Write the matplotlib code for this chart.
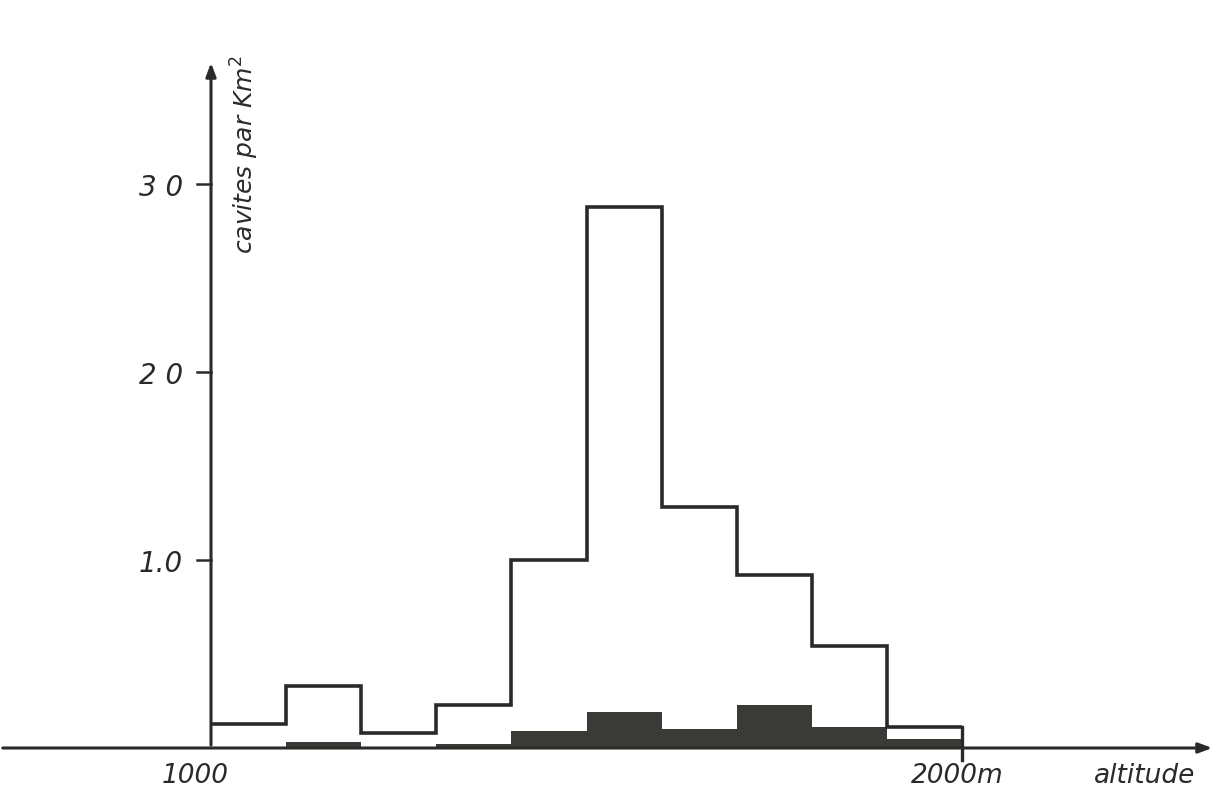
import numpy as np
import matplotlib
matplotlib.use("Agg")
import matplotlib.pyplot as plt

# Data
bin_edges = [1000, 1100, 1200, 1300, 1400, 1500, 1600, 1700, 1800, 1900, 2000]
all_cavities = [0.13, 0.33, 0.08, 0.23, 1.0, 2.88, 1.28, 0.92, 0.54, 0.11]
deep_cavities = [0.0, 0.03, 0.0, 0.02, 0.09, 0.19, 0.10, 0.23, 0.11, 0.05]
ytick_values = [1.0, 2.0, 3.0]
ytick_labels = ["1.0", "2 0", "3 0"]

W, H = 1220, 796
fig = plt.figure(figsize=(W / 100, H / 100), dpi=100)
ax = fig.add_axes([0, 0, 1, 1])

# pixel mapping
x0px, x1px = 211, 962
y0px, ppu = 748, 188
mpp = (2000 - 1000) / (x1px - x0px)
ax.set_xlim(1000 - x0px * mpp, 1000 + (W - x0px) * mpp)
ax.set_ylim(-(H - y0px) / ppu, y0px / ppu)
ax.axis("off")

col = "#2a2a28"
ax.stairs(deep_cavities, bin_edges, fill=True, color="#3a3a36", zorder=2)
ax.stairs(all_cavities, bin_edges, baseline=None, color=col, lw=2.6, zorder=3)

# axes with arrows
ax.annotate("", xy=(1000 + (1215 - x0px) * mpp, 0), xytext=(1000 - x0px * mpp, 0),
            arrowprops=dict(arrowstyle="-|>,head_length=0.8,head_width=0.3", lw=2.2, color=col),
            zorder=4)
ax.annotate("", xy=(1000, (y0px - 60) / ppu), xytext=(1000, 0),
            arrowprops=dict(arrowstyle="-|>,head_length=0.8,head_width=0.3", lw=2.2, color=col),
            zorder=4)

# ticks
for v, lab in zip(ytick_values, ytick_labels):
    ax.plot([1000 - 14 * mpp, 1000], [v, v], color=col, lw=1.8)
    ax.text(1000 - 50 * mpp, v - 0.02, lab, ha="center", va="center",
            fontsize=20, style="italic", color=col, fontweight="light")

# right edge of the last bin, extending slightly below the axis
ax.plot([bin_edges[-1], bin_edges[-1]], [all_cavities[-1], -12 / ppu], color=col, lw=2.4, zorder=3)

ax.text(1000 - 16 * mpp, -(776 - y0px) / ppu, "1000", ha="center", va="center",
        fontsize=19, style="italic", color=col)
ax.text(1000 + (957 - x0px) * mpp, -(776 - y0px) / ppu, "2000m", ha="center", va="center",
        fontsize=19, style="italic", color=col)
ax.text(1000 + (1145 - x0px) * mpp, -(776 - y0px) / ppu, "altitude", ha="center", va="center",
        fontsize=19, style="italic", color=col)

ax.text(1000 + (245 - x0px) * mpp, (y0px - 155) / ppu, "cavites par Km$^2$", rotation=90,
        ha="center", va="center", fontsize=18, style="italic", color=col)

fig.savefig("out.png", dpi=100, facecolor="white")
